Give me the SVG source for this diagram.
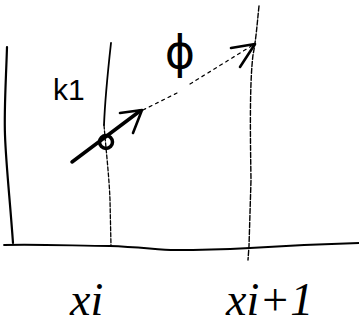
<svg xmlns="http://www.w3.org/2000/svg" width="359" height="328" viewBox="0 0 359 328">
<style>
.ln{fill:none;stroke:#000;stroke-linecap:round;stroke-linejoin:round}
.hand{font-family:"Liberation Serif",serif;font-style:italic;fill:#000}
</style>
<rect width="359" height="328" fill="#fff"/>
<path class="ln" stroke-width="2.2" d="M7,47 C6,80 4,110 5,135 C6,165 10,200 13,243"/>
<path class="ln" stroke-width="1.8" d="M111,43 C108,70 105,100 104,125"/>
<path class="ln" stroke-width="1.3" stroke-dasharray="4 2" d="M104,125 C106,150 109,175 110,200 L111,246"/>
<path class="ln" stroke-width="1.4" stroke-dasharray="5 2" d="M259,6 C257,25 256,40 253,55 C250,80 250,120 251,180 L249,246 L248,260"/>
<path class="ln" stroke-width="1.8" d="M4,245 C40,244 80,246 110,246 C140,247 160,250 175,250 C200,250 230,249 250,248 C280,246 320,244 359,243"/>
<path class="ln" stroke-width="3.5" d="M72,162 L140,111"/>
<circle cx="106" cy="142" r="6.5" fill="none" stroke="#000" stroke-width="3.5"/>
<path class="ln" stroke-width="2.6" d="M120,113 L142,110 L133,133"/>
<path class="ln" stroke-width="1.2" stroke-dasharray="3 4" d="M143,110 L177,93 M190,84 L253,45"/>
<path class="ln" stroke-width="2.6" d="M231,48 L255,44 L240,67"/>
<text x="180" y="68" font-family="DejaVu Sans,sans-serif" font-size="46" text-anchor="middle" fill="#000">ϕ</text>
<text x="53" y="100" font-family="Liberation Sans,sans-serif" font-size="30" fill="#000">k1</text>
<text class="hand" x="70" y="315" font-size="46">xi</text>
<text class="hand" x="226" y="315" font-size="46">xi+1</text>
</svg>
